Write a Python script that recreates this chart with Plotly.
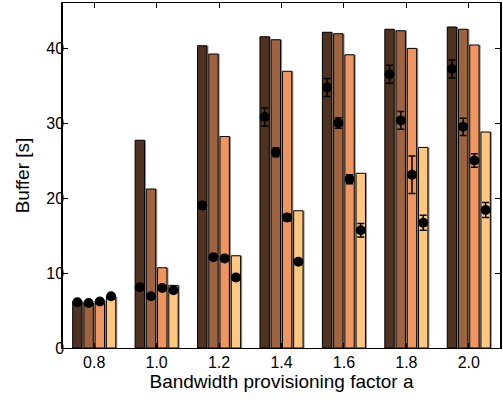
import plotly.graph_objects as go

categories = ["0.8", "1.0", "1.2", "1.4", "1.6", "1.8", "2.0"]

# bar heights (per series)
bar_s1 = [6.2, 27.7, 40.3, 41.5, 42.1, 42.5, 42.8]
bar_s2 = [6.0, 21.2, 39.2, 41.1, 41.9, 42.3, 42.5]
bar_s3 = [6.3, 10.7, 28.2, 36.9, 39.1, 39.95, 40.4]
bar_s4 = [6.8, 8.35, 12.3, 18.3, 23.3, 26.75, 28.8]

# mean markers (per series)
mean_s1 = [6.1, 8.1, 19.0, 30.8, 34.75, 36.5, 37.2]
mean_s2 = [6.0, 6.9, 12.1, 26.1, 30.0, 30.35, 29.5]
mean_s3 = [6.2, 8.0, 11.95, 17.4, 22.5, 23.1, 25.0]
mean_s4 = [6.9, 7.7, 9.4, 11.5, 15.7, 16.7, 18.4]

# error half-widths (per series)
err_s1 = [0.2, 0.3, 0.5, 1.2, 1.2, 1.2, 1.2]
err_s2 = [0.2, 0.3, 0.4, 0.6, 0.7, 1.2, 1.15]
err_s3 = [0.2, 0.3, 0.4, 0.5, 0.6, 2.5, 0.9]
err_s4 = [0.2, 0.3, 0.4, 0.4, 0.9, 1.0, 1.0]

colors = ["#503220", "#9f643f", "#ef955f", "#ffc77f"]
bars = [bar_s1, bar_s2, bar_s3, bar_s4]
means = [mean_s1, mean_s2, mean_s3, mean_s4]
errs = [err_s1, err_s2, err_s3, err_s4]

centers = [-0.27, -0.09, 0.09, 0.27]
bw = 0.15
xs = list(range(len(categories)))

fig = go.Figure()
for k in range(4):
    # soft shadow
    fig.add_trace(go.Bar(
        x=xs, y=bars[k], width=bw, offset=centers[k] - bw / 2 + 0.025,
        marker=dict(color="rgba(120,120,120,0.8)", line=dict(width=0)),
        showlegend=False, hoverinfo="skip"))
    fig.add_trace(go.Bar(
        x=xs, y=bars[k], width=bw, offset=centers[k] - bw / 2,
        marker=dict(color=colors[k], line=dict(color="black", width=1)),
        showlegend=False))
for k in range(4):
    fig.add_trace(go.Scatter(
        x=[i + centers[k] for i in xs], y=means[k], mode="markers",
        marker=dict(symbol="circle", size=10, color="black"),
        error_y=dict(type="data", array=errs[k], color="black", thickness=1.5, width=3.5),
        showlegend=False))

fig.update_layout(
    width=503, height=403,
    margin=dict(l=63, r=1, t=3, b=55),
    barmode="overlay",
    plot_bgcolor="white", paper_bgcolor="white",
    font=dict(family="Liberation Sans, Arial, sans-serif", size=16, color="black"),
)
fig.update_xaxes(
    range=[-0.5, 6.5], tickvals=xs, ticktext=categories,
    showline=True, linecolor="black", linewidth=1, mirror="ticks",
    ticks="inside", ticklen=5, tickcolor="black", showgrid=False, zeroline=False,
    title=dict(text="Bandwidth provisioning factor a", standoff=4),
)
fig.update_yaxes(
    range=[0, 46], tickvals=[0, 10, 20, 30, 40],
    showline=True, linecolor="black", linewidth=1.5, mirror="ticks",
    ticks="inside", ticklen=5, tickcolor="black", showgrid=False, zeroline=False,
    ticklabelstandoff=-6,
    title=dict(text="Buffer [s]", standoff=12),
)

fig.write_html("out.html", config={"displayModeBar": False},
               post_script="document.body.style.margin='0';")
